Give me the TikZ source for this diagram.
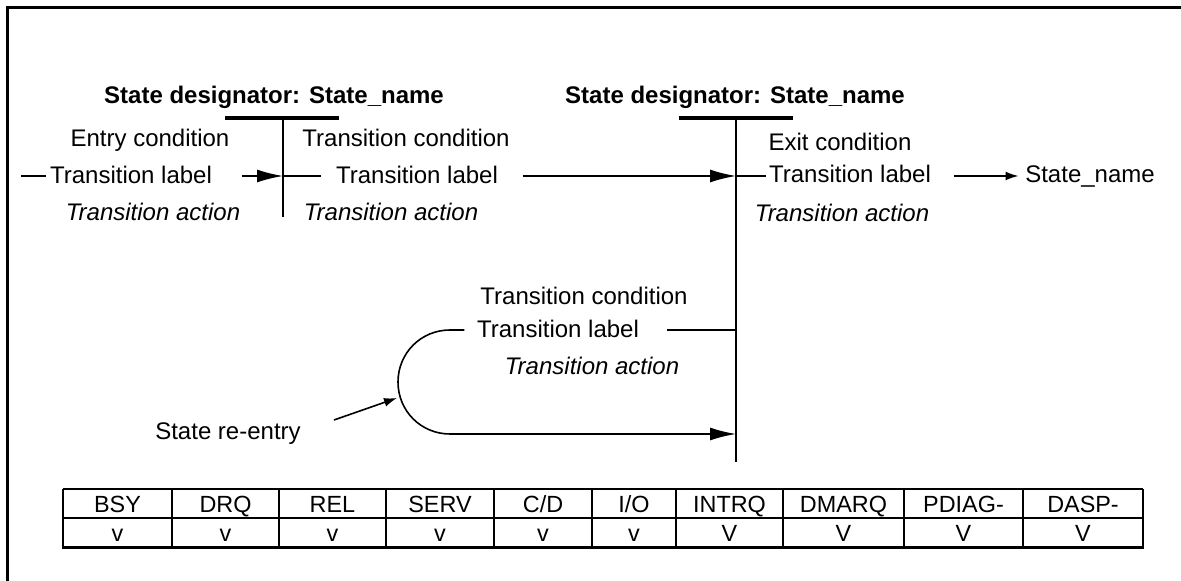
\documentclass[tikz,border=0pt]{standalone}
\usepackage{fontspec}
\setmainfont{Liberation Sans}
\usetikzlibrary{arrows.meta,calc}
\tikzset{
  txt/.style={inner sep=0pt,anchor=base,font=\fontsize{12}{14}\selectfont},
  ttl/.style={txt,font=\fontsize{12}{14}\selectfont\bfseries},
  act/.style={txt,font=\fontsize{12}{14}\selectfont\itshape},
  cell/.style={inner sep=0pt,anchor=base,font=\fontsize{11.7}{14}\selectfont},
  bigtip/.style={-{Latex[length=13pt,width=6.5pt]}},
  smalltip/.style={-{Latex[length=6.5pt,width=4.5pt]}},
}

\begin{document}
\begin{tikzpicture}[x=0.5pt,y=-0.5pt,line width=0.8pt]
\useasboundingbox (0,0) rectangle (1181,581);
% frame
\draw[line width=1.35pt] (7.3,581) -- (7.3,7.3) -- (1181,7.3);
% first state
\node[ttl] (title1) at (274,104) {State designator: State\_name};
\draw[line width=2pt] (225,118) -- (339,118);
\coordinate (top1) at (283,118);
\coordinate (bot1) at (283,217);
\draw[line width=1pt] (top1) -- (bot1);
\node[txt] (entry) at (150,147) {Entry condition};
\node[txt] (cond1) at (406,147) {Transition condition};
\node[txt] (lab1) at (131,184) {Transition label};
\node[txt] (lab2) at (417,184) {Transition label};
\node[act] (act1) at (153,221) {Transition action};
\node[act] (act2) at (391,221) {Transition action};
% second state
\node[ttl] (title2) at (735,104) {State designator: State\_name};
\draw[line width=2pt] (679,118) -- (793,118);
\coordinate (top2) at (736,118);
\coordinate (bot2) at (736,462);
\draw[line width=1pt] (top2) -- (bot2);
\node[txt] (exit) at (840,151) {Exit condition};
\node[txt] (lab3) at (850,183) {Transition label};
\node[txt] (sname) at (1090,183) {State\_name};
\node[act] (act3) at (842,222) {Transition action};
% top row connectors
\coordinate (in1) at (21,176);
\coordinate (j1) at (283,176);
\coordinate (j2) at (736,176);
\draw (in1) -- ($(lab1.west |- in1)+(-3,0)$);
\draw[bigtip] ($(lab1.east |- j1)+(29,0)$) -- (j1);
\draw (j1) -- ($(lab2.west |- j1)+(-14,0)$);
\draw[bigtip] ($(lab2.east |- j1)+(24,0)$) -- (j2);
\draw (j2) -- ($(lab3.west |- j2)+(-2,0)$);
\draw[smalltip] ($(lab3.east |- j2)+(22,0)$) -- ($(sname.west |- j2)+(-6,0)$);
% re-entry loop
\node[txt] (cond2) at (584,305) {Transition condition};
\node[txt] (lab4) at (558,338) {Transition label};
\node[act] (act4) at (592,375) {Transition action};
\node[txt] (reentry) at (228,440) {State re-entry};
\coordinate (j3) at (736,330);
\coordinate (j4) at (736,434);
\coordinate (loop1) at (450,330);
\coordinate (loop2) at (450,434);
\draw ($(lab4.east |- j3)+(27,0)$) -- (j3);
\draw[bigtip] ($(lab4.west |- j3)+(-12,0)$) -- (loop1)
  .. controls (421,330) and (398,353) .. (398,382)
  .. controls (398,411) and (421,434) .. (loop2) -- (j4);
\coordinate (tail) at (334,420);
\coordinate (hit) at (397,398);
\draw[smalltip] (tail) -- (hit);
% table
\draw[line width=1pt] (63,489) -- (1143,489);
\draw[line width=1pt] (63,518) -- (1143,518);
\draw[line width=1.5pt] (62,547) -- (1144,547);
\draw[line width=1pt] (63,489) -- (63,547) (172,489) -- (172,547)
  (279,489) -- (279,547) (386,489) -- (386,547) (494,489) -- (494,547)
  (592,489) -- (592,547) (676,489) -- (676,547) (783,489) -- (783,547)
  (904,489) -- (904,547) (1023,489) -- (1023,547) (1143,489) -- (1143,547);
\node[cell] (bsy) at (117.5,512) {BSY};
\node[cell] (drq) at (225.5,512) {DRQ};
\node[cell] (rel) at (332.5,512) {REL};
\node[cell] (serv) at (440,512) {SERV};
\node[cell] (cd) at (543,512) {C/D};
\node[cell] (io) at (634,512) {I/O};
\node[cell] (intrq) at (729.5,512) {INTRQ};
\node[cell] (dmarq) at (843.5,512) {DMARQ};
\node[cell] (pdiag) at (963.5,512) {PDIAG-};
\node[cell] (dasp) at (1083,512) {DASP-};
\node[cell] (bsyv) at (117.5,541) {v};
\node[cell] (drqv) at (225.5,541) {v};
\node[cell] (relv) at (332.5,541) {v};
\node[cell] (servv) at (440,541) {v};
\node[cell] (cdv) at (543,541) {v};
\node[cell] (iov) at (634,541) {v};
\node[cell] (intrqv) at (729.5,541) {V};
\node[cell] (dmarqv) at (843.5,541) {V};
\node[cell] (pdiagv) at (963.5,541) {V};
\node[cell] (daspv) at (1083,541) {V};
\end{tikzpicture}
\end{document}
